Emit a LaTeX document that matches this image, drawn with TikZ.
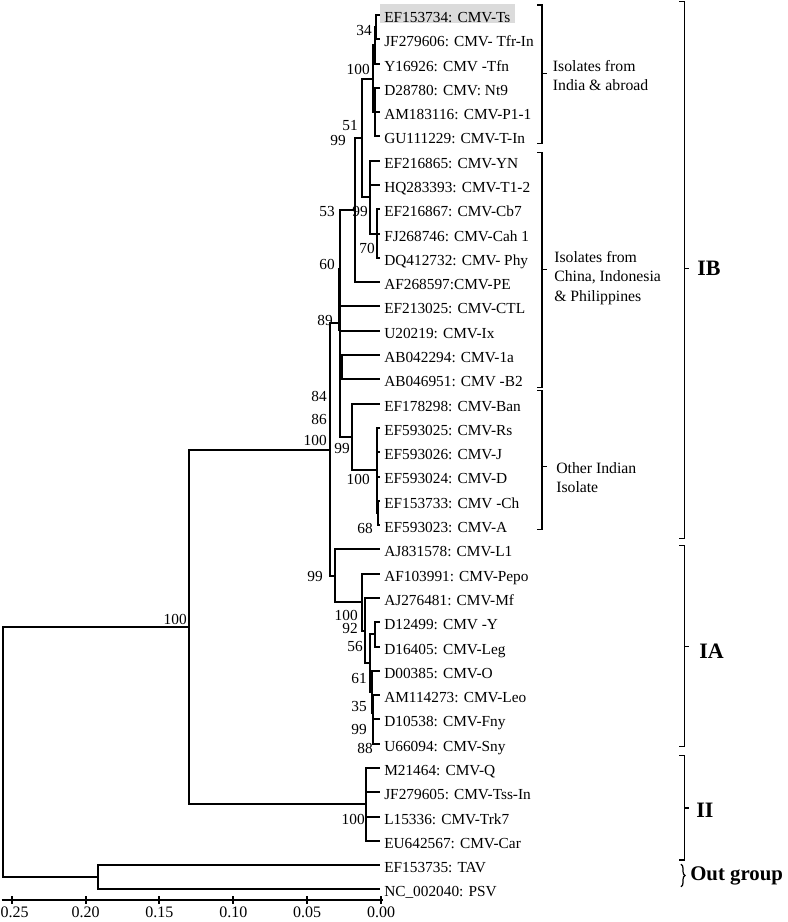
\documentclass[tikz,border=0pt]{standalone}
\usepackage{fontspec}
\setmainfont{Liberation Serif}
\usetikzlibrary{backgrounds,decorations.pathreplacing}

\tikzset{
  branch/.style={line width=1.5pt},
  tiplabel/.style={anchor=base west, yshift=-5.6pt, inner xsep=3pt, inner ysep=0.3pt,
    font=\fontsize{11.5}{13}\selectfont},
  boot/.style={anchor=east, inner sep=0pt, font=\fontsize{11.5}{13}\selectfont},
  grouptext/.style={anchor=west, align=left, inner sep=0pt, font=\fontsize{11.8}{14.3}\selectfont},
  clade/.style={anchor=west, inner sep=0pt, font=\fontsize{16.5}{18}\selectfont\bfseries},
  bracket/.style={line width=0.9pt},
  axislabel/.style={anchor=base, inner sep=0pt, font=\fontsize{12}{14}\selectfont},
  hilite/.style={fill=gray!28},
}

\begin{document}
\begin{tikzpicture}[x=0.75pt, y=-18.2175pt] % x in px, y in rows
   \useasboundingbox (0,-0.6175) rectangle (787,37.34);
   % Tips and their labels
   \foreach \i/\tname in {
      0/EF153734: CMV-Ts, 1/JF279606: CMV- Tfr-In, 2/Y16926: CMV -Tfn,
      3/D28780: CMV: Nt9, 4/AM183116: CMV-P1-1, 5/GU111229: CMV-T-In,
      6/EF216865: CMV-YN, 7/HQ283393: CMV-T1-2, 8/EF216867: CMV-Cb7,
      9/FJ268746: CMV-Cah 1, 10/DQ412732: CMV- Phy, 11/AF268597:CMV-PE,
      12/EF213025: CMV-CTL, 13/U20219: CMV-Ix, 14/AB042294: CMV-1a,
      15/AB046951: CMV -B2, 16/EF178298: CMV-Ban, 17/EF593025: CMV-Rs,
      18/EF593026: CMV-J, 19/EF593024: CMV-D, 20/EF153733: CMV -Ch,
      21/EF593023: CMV-A, 22/AJ831578: CMV-L1, 23/AF103991: CMV-Pepo,
      24/AJ276481: CMV-Mf, 25/D12499: CMV -Y, 26/D16405: CMV-Leg,
      27/D00385: CMV-O, 28/AM114273: CMV-Leo, 29/D10538: CMV-Fny,
      30/U66094: CMV-Sny, 31/M21464: CMV-Q, 32/JF279605: CMV-Tss-In,
      33/L15336: CMV-Trk7, 34/EU642567: CMV-Car, 35/EF153735: TAV,
      36/NC\_002040: PSV} {
      \coordinate (t\i) at (380,\i);
      \node[tiplabel] (l\i) at (t\i) {\tname};
   }
   \begin{scope}[on background layer]
      \fill[hilite] (l0.south west) rectangle ([yshift=6pt]l0.north east);
   \end{scope}
   % Internal nodes, clade IB
   \coordinate (n34) at (376,0.5);
   \coordinate (nA2) at (374.5,1.25);
   \coordinate (nA3) at (374.5,4);
   \coordinate (n100a) at (372.7,2.625);
   \coordinate (nCb) at (376.7,9);
   \coordinate (nN1) at (370,7.5);
   \coordinate (n51) at (361.7,5.0625);
   \coordinate (n99a) at (354.5,8.03);
   \coordinate (nAB) at (341.7,14.5);
   \coordinate (n68) at (378,20.5);
   \coordinate (nEF) at (376.7,18.75);
   \coordinate (nOI) at (351.7,17.375);
   \coordinate (nIB) at (340,12.70);
   \coordinate (n60) at (338.6,10.42);
   % Internal nodes, clade IA
   \coordinate (nV) at (373.3,29.5);
   \coordinate (nU) at (372.5,28.75);
   \coordinate (nT) at (371.7,27.875);
   \coordinate (nS) at (375,25.5);
   \coordinate (nR) at (370,26.6875);
   \coordinate (nQ) at (365,25.34);
   \coordinate (nP) at (361.7,24.17);
   \coordinate (nIA) at (335,23.085);
   % Deeper nodes
   \coordinate (nCI) at (330,17.89);
   \coordinate (nII) at (366,32.5);
   \coordinate (nR1) at (189.3,25.2);
   \coordinate (nOut) at (97.7,35.5);
   \coordinate (nRoot) at (3.3,30.35);
   % Branches
   \foreach \p/\c in {n34/t0, n34/t1, nA2/n34, nA2/t2, nA3/t3, nA3/t4, nA3/t5,
      n100a/nA2, n100a/nA3, nCb/t8, nCb/t9, nCb/t10, nN1/t6, nN1/t7, nN1/nCb,
      n51/n100a, n51/nN1, n99a/n51, n99a/t11, nAB/t14, nAB/t15, n68/t20, n68/t21,
      nEF/t17, nEF/t18, nEF/t19, nEF/n68, nOI/t16, nOI/nEF, nIB/n99a, nIB/t12,
      nIB/t13, nIB/nAB, nIB/nOI, nV/t29, nV/t30, nU/t28, nU/nV, nT/t27, nT/nU,
      nS/t25, nS/t26, nR/nS, nR/nT, nQ/t24, nQ/nR, nP/t23, nP/nQ, nIA/t22, nIA/nP,
      nCI/nIB, nCI/nIA, nII/t31, nII/t32, nII/t33, nII/t34, nR1/nCI, nR1/nII,
      nOut/t35, nOut/t36, nRoot/nR1, nRoot/nOut}
      \draw[branch] (\p) |- (\c);
   \draw[branch] (n60) -- (n60 |- t13);
   % Bootstrap values
   \foreach \bx/\by/\bv [count=\k] in {372/0.65/34, 370/2.26/100, 358/4.53/51,
      346/5.15/99, 335/8.10/53, 368/8.10/99, 375/9.60/70, 335/10.29/60,
      333/12.56/89, 327/15.71/84, 327/16.67/86, 327/17.50/100, 350/17.84/99,
      370/19.14/100, 373/21.13/68, 323/23.10/99, 358/24.70/100, 358/25.25/92,
      363/26.0/56, 367/27.31/61, 367/28.48/35, 367/29.41/99, 373/30.19/88,
      365/33.11/100, 187/24.88/100}
      \node[boot] (bs\k) at (\bx,\by) {\bv};
   % Scale axis
   \draw[branch] (1.7,36.434) -- (383,36.434);
   \foreach \k/\v/\lx in {0/0.00/381, 1/0.05/307.1, 2/0.10/233.3, 3/0.15/159.4,
      4/0.20/85.6, 5/0.25/14.5} {
      \coordinate (tk\k) at ({381-73.86*\k},36.434);
      \draw[branch] ([yshift=3pt]tk\k) -- ([yshift=-3pt]tk\k);
      \node[axislabel] (av\k) at (\lx,37.14) {\v};
   }
   % Sub-group brackets
   \draw[bracket] (537,-0.41) -- (542,-0.41) -- (542,5.28) -- (537,5.28);
   \draw[bracket] (542,2.4) -- (547,2.4);
   \node[grouptext] (gIndia) at (552.7,2.51) {Isolates from\\India \& abroad};
   \draw[bracket] (537,5.67) -- (542,5.67) -- (542,15.33) -- (537,15.33);
   \draw[bracket] (542,10.47) -- (547,10.47);
   \node[grouptext] (gChina) at (554,10.83) {Isolates from\\China, Indonesia\\\& Philippines};
   \draw[bracket] (537,15.47) -- (542,15.47) -- (542,21.17) -- (537,21.17);
   \draw[bracket] (542,18.6) -- (547,18.6);
   \node[grouptext] (gOther) at (556,19.05) {Other Indian\\Isolate};
   % Clade brackets
   \draw[bracket] (679,-0.55) -- (684.5,-0.55) -- (684.5,21.54) -- (679,21.54);
   \draw[bracket] (684.5,10.42) -- (689,10.42);
   \node[clade] (cIB) at (697,10.42) {IB};
   \draw[bracket] (679,21.85) -- (684.5,21.85) -- (684.5,30.12) -- (679,30.12);
   \draw[bracket] (684.5,26.0) -- (689,26.0);
   \node[clade] (cIA) at (699,26.21) {IA};
   \draw[bracket] (679,30.47) -- (684.5,30.47) -- (684.5,34.79) -- (679,34.79);
   \draw[bracket] (684.5,32.65) -- (689,32.65);
   \node[clade] (cII) at (696,32.73) {II};
   \draw[bracket, decorate, decoration={brace, amplitude=3pt}] (681,34.96) -- (681,35.89);
   \node[clade, font=\fontsize{15.6}{18}\selectfont\bfseries] (cOut) at (690,35.45) {Out group};
\end{tikzpicture}
\end{document}
